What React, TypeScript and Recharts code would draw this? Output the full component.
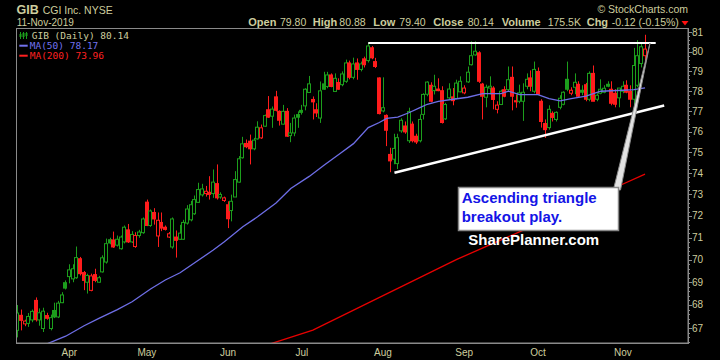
import React from "react";
import { ComposedChart, Bar, Line, XAxis, YAxis, ReferenceLine } from "recharts";

const KHAKI = "#cdcd9e";
const UP = "#1c9e1c";
const DOWN = "#ff1c1c";
const FRAME = "#8a8a8a";

// one row per trading day: index 0 = 12-Mar-2019, last = 11-Nov-2019; [open, high, low, close]
const candles: number[][] = [
  [66.9, 68.0, 66.6, 67.65], [67.55, 67.8, 66.9, 67.33], [67.18, 67.36, 67.08, 67.3], [67.2, 67.65, 67.05, 67.5],
  [67.35, 67.8, 67.25, 67.72], [68.2, 68.33, 67.28, 67.36], [67.35, 67.85, 67.1, 67.66], [66.98, 67.88, 66.83, 67.73],
  [67.54, 67.66, 67.36, 67.42], [66.98, 67.58, 66.9, 67.45], [67.76, 68.1, 67.43, 67.48], [67.48, 68.18, 67.43, 68.08],
  [68.1, 68.56, 68.08, 68.44], [68.98, 69.08, 68.68, 68.74], [69.25, 69.8, 68.95, 69.55], [69.15, 69.8, 69.0, 69.6],
  [69.2, 70.6, 69.15, 70.1], [70.05, 70.13, 69.3, 69.38], [69.43, 69.5, 68.65, 69.08], [69.0, 69.38, 68.5, 69.3],
  [68.64, 69.38, 68.6, 69.28], [69.34, 69.6, 69.0, 69.08], [69.0, 69.28, 68.98, 69.2], [69.46, 70.2, 69.43, 70.09],
  [69.9, 70.96, 69.83, 70.73], [70.91, 71.0, 70.7, 70.76], [70.9, 71.28, 70.54, 70.58], [70.66, 71.1, 70.6, 70.93],
  [70.5, 71.1, 70.46, 71.03], [70.81, 71.56, 70.74, 71.48], [71.36, 71.63, 70.76, 70.81], [70.81, 71.3, 70.76, 71.15],
  [70.6, 71.25, 70.54, 71.1], [71.1, 71.36, 71.0, 71.26], [71.23, 71.93, 71.18, 71.86], [72.64, 72.76, 71.53, 71.56],
  [71.56, 72.3, 71.5, 72.23], [72.16, 72.36, 71.6, 71.86], [71.08, 72.16, 70.58, 71.8], [71.7, 72.16, 71.3, 71.44],
  [71.48, 71.56, 71.33, 71.38], [71.03, 71.26, 70.99, 71.18], [70.58, 71.93, 70.5, 71.86], [71.03, 71.33, 70.1, 70.88],
  [70.93, 71.59, 70.9, 71.21], [70.93, 71.82, 70.9, 71.7], [71.67, 72.5, 71.6, 72.32], [71.82, 72.7, 71.75, 72.52],
  [72.1, 72.95, 72.05, 72.76], [72.63, 73.55, 72.6, 73.23], [72.98, 73.5, 72.9, 73.26], [73.04, 73.4, 72.9, 73.15],
  [73.1, 73.86, 72.76, 73.0], [73.04, 74.18, 72.84, 73.58], [73.51, 74.42, 72.76, 72.84], [72.88, 73.1, 72.8, 73.0],
  [72.72, 72.9, 72.65, 72.84], [72.52, 72.68, 71.44, 71.87], [72.25, 72.99, 71.75, 72.68], [72.88, 74.1, 72.88, 73.7],
  [73.58, 74.82, 73.55, 74.69], [74.74, 75.75, 74.7, 75.41], [75.43, 75.62, 75.2, 75.27], [75.54, 75.86, 74.42, 75.17],
  [75.17, 75.7, 75.1, 75.59], [75.65, 76.51, 75.62, 76.22], [75.7, 76.35, 75.65, 76.19], [76.27, 76.84, 76.24, 76.79],
  [77.08, 77.76, 76.68, 76.71], [76.76, 77.24, 76.19, 77.11], [77.72, 78.02, 77.0, 77.05], [77.0, 77.05, 76.3, 76.56],
  [76.37, 77.32, 76.35, 77.0], [77.0, 77.16, 75.75, 75.78], [75.81, 76.43, 75.49, 75.94], [75.94, 76.84, 75.78, 76.67],
  [76.84, 77.0, 76.19, 76.71], [77.05, 77.32, 76.84, 76.95], [77.27, 78.15, 77.05, 78.1], [77.94, 78.77, 77.94, 78.37],
  [77.59, 77.74, 76.6, 77.47], [77.08, 77.4, 76.72, 76.92], [76.67, 78.49, 76.43, 78.02], [78.37, 78.98, 78.07, 78.1],
  [78.24, 78.98, 78.15, 78.82], [78.82, 78.9, 78.2, 78.24], [77.99, 78.9, 77.97, 78.65], [78.44, 78.65, 78.07, 78.1],
  [78.33, 79.0, 78.25, 78.87], [78.5, 79.6, 78.42, 79.43], [79.43, 79.55, 78.6, 78.7], [78.7, 79.7, 78.6, 79.38],
  [79.43, 79.66, 78.58, 79.1], [79.1, 79.5, 79.0, 79.38], [79.64, 79.75, 79.2, 79.34], [79.55, 80.47, 79.45, 80.3],
  [80.21, 80.3, 79.62, 79.69], [79.5, 79.69, 79.17, 79.25], [78.67, 78.7, 76.85, 76.89], [77.02, 78.7, 76.95, 77.18],
  [76.8, 76.85, 75.3, 76.07], [74.9, 75.22, 74.05, 74.59], [74.67, 75.9, 74.43, 75.19], [74.46, 75.9, 74.2, 75.71],
  [76.04, 76.66, 75.95, 76.56], [76.28, 76.5, 75.9, 75.99], [75.56, 77.18, 75.45, 76.99], [76.37, 76.5, 75.48, 75.56],
  [75.78, 75.9, 75.4, 75.5], [75.56, 76.85, 75.48, 76.6], [76.85, 77.9, 76.6, 77.84], [77.85, 78.5, 77.75, 78.46],
  [78.3, 78.45, 77.45, 77.5], [78.03, 78.83, 77.84, 78.25], [78.11, 78.65, 78.0, 78.03], [78.03, 78.25, 76.4, 76.45],
  [76.63, 77.42, 76.58, 77.34], [77.67, 78.4, 77.6, 78.11], [77.72, 78.16, 77.3, 77.53], [77.64, 78.58, 77.6, 78.41],
  [77.97, 78.75, 77.95, 78.5], [77.92, 78.3, 77.85, 78.16], [78.47, 79.25, 78.42, 78.96], [79.34, 80.54, 79.3, 79.8],
  [79.84, 80.54, 79.8, 80.03], [79.95, 80.03, 78.42, 78.5], [78.36, 78.42, 76.6, 77.75], [77.7, 78.33, 77.2, 78.2],
  [78.16, 78.75, 77.84, 78.25], [78.16, 78.25, 77.1, 77.59], [77.1, 77.5, 76.9, 77.31], [77.34, 78.08, 77.31, 78.0],
  [78.08, 78.25, 77.7, 77.75], [78.08, 79.25, 78.0, 78.58], [78.7, 79.25, 77.05, 77.75], [77.53, 77.84, 77.18, 77.47],
  [77.5, 78.33, 77.4, 77.92], [77.5, 78.4, 76.53, 77.95], [78.25, 78.9, 78.1, 78.6], [78.67, 79.05, 78.0, 78.25],
  [78.0, 79.5, 77.9, 79.1], [79.0, 79.2, 77.84, 77.85], [77.5, 77.6, 76.2, 76.5], [76.4, 76.6, 75.7, 76.1],
  [76.2, 77.3, 76.1, 77.1], [76.9, 77.0, 76.5, 76.7], [76.6, 77.0, 76.5, 76.95], [77.2, 77.8, 77.1, 77.65],
  [77.35, 78.0, 77.3, 77.95], [78.6, 79.5, 78.0, 78.1], [77.9, 78.2, 77.8, 78.05], [78.2, 78.9, 77.85, 78.45],
  [78.35, 78.5, 77.7, 77.75], [78.05, 78.3, 77.8, 77.95], [78.33, 78.42, 77.5, 77.6], [77.6, 79.0, 77.5, 78.9],
  [78.9, 79.3, 77.5, 77.5], [77.6, 77.9, 77.5, 77.8], [77.9, 78.6, 77.85, 78.1], [77.95, 78.3, 77.9, 78.15],
  [78.35, 78.5, 78.2, 78.25], [78.1, 78.5, 77.3, 77.4], [77.9, 78.1, 77.2, 77.35], [77.67, 78.05, 77.2, 78.16],
  [78.0, 78.5, 77.9, 78.25], [78.3, 78.55, 77.9, 77.95], [78.0, 78.3, 77.2, 77.6], [77.6, 80.2, 77.0, 79.3],
  [78.3, 80.6, 78.2, 79.8], [79.4, 80.5, 79.2, 80.26], [79.8, 80.88, 79.4, 80.14],
];

// moving averages: [day index, value]
const ma50Points: number[][] = [
  [6, 66.2], [13, 66.65], [18, 67.1], [22, 67.42], [27, 67.8], [31, 68.14], [36, 68.7], [40, 69.1], [44, 69.42],
  [53, 70.44], [56, 70.82], [61, 71.5], [65, 71.96], [70, 72.6], [74, 73.28], [79, 73.85], [83, 74.38], [87, 74.9],
  [91, 75.42], [95, 76.2], [98, 76.45], [100, 76.65], [103, 76.72], [106, 76.93], [109, 77.18], [111, 77.35],
  [114, 77.5], [118, 77.6], [122, 77.7], [126, 77.88], [131, 77.88], [133, 78.0], [136, 77.83], [141, 77.83],
  [144, 77.63], [147, 77.52], [150, 77.63], [154, 77.76], [158, 78.0], [164, 78.05], [167, 78.08], [170, 78.17],
];
const ma200Points: number[][] = [
  [67, 66.25], [80, 66.91], [119, 70.02], [136, 71.27], [163, 73.41], [170, 73.96],
];

const monthTicks = [14, 35, 57, 77, 99, 121, 141, 164];
const monthLabels = ["Apr", "May", "Jun", "Jul", "Aug", "Sep", "Oct", "Nov"];

// triangle drawn on the chart: [day index, price]
const resistance = [[95, 80.46], [172.9, 80.46]];
const support = [[102.1, 74.02], [175.2, 77.29]];

const Y_DOMAIN = [66.36, 81.18];
const X_DOMAIN = [-0.46, 181.65];

const rows = candles.map(([o, h, l, c], i) => ({
  i,
  range: [l, h],
  o,
  h,
  l,
  c,
  prev: i > 0 ? candles[i - 1][3] : o,
}));

const priceTicks: number[] = [];
for (let p = 66; p <= 81; p++) {
  for (let k = 0; k < 5; k++) {
    const v = Math.round((p + k / 5) * 10) / 10;
    if (v > Y_DOMAIN[0] && v < Y_DOMAIN[1]) priceTicks.push(v);
  }
}

function Candle(props: any) {
  const { x, y, width, height, payload } = props;
  if (!payload) return null;
  const { o, h, l, c, prev } = payload;
  const span = Math.log(h) - Math.log(l);
  const yOf = (v: number) => (span > 0 ? y + (height * (Math.log(h) - Math.log(v))) / span : y);
  const cx = Math.round(x + width / 2) + 0.5;
  const color = c >= prev ? UP : DOWN;
  const top = yOf(Math.max(o, c));
  const bot = yOf(Math.min(o, c));
  const bh = Math.max(bot - top, 1);
  return (
    <g>
      <line x1={cx} x2={cx} y1={y} y2={y + Math.max(height, 1)} stroke={color} strokeWidth={1} />
      {c > o ? (
        <rect x={cx - 2} y={top} width={3} height={bh} fill="#000" stroke={color} strokeWidth={1} />
      ) : (
        <rect x={cx - 2.5} y={top - 0.5} width={4} height={bh + 1} fill={color} />
      )}
    </g>
  );
}

function PriceTick(props: any) {
  const { x, y, payload } = props;
  const v = payload.value;
  const major = Math.abs(v - Math.round(v)) < 1e-6;
  return (
    <g>
      <line x1={x} x2={x + (major ? 4 : 2)} y1={Math.round(y) + 0.5} y2={Math.round(y) + 0.5} stroke={FRAME} />
      {major && (
        <text x={x + 4} y={y + 3.5} fill={KHAKI} fontSize={10} fontFamily="Liberation Sans, Arial, sans-serif">
          {Math.round(v)}
        </text>
      )}
    </g>
  );
}

function MonthTick(props: any) {
  const { x, payload } = props;
  const idx = monthTicks.indexOf(payload.value);
  return (
    <text x={x} y={355.5} textAnchor="middle" fill={KHAKI} fontSize={10} fontFamily="Liberation Sans, Arial, sans-serif">
      {monthLabels[idx]}
    </text>
  );
}

function Overlay() {
  const hdr = "Liberation Sans, Arial, sans-serif";
  const mono = "DejaVu Sans Mono, monospace";
  const stats: [string, string, number, number][] = [
    ["Open", "79.80", 248.3, 280],
    ["High", "80.88", 312.7, 339.3],
    ["Low", "79.40", 373.3, 399.3],
    ["Close", "80.14", 433.3, 467.7],
    ["Volume", "175.5K", 501.7, 547.7],
    ["Chg", "-0.12 (-0.15%)", 586.7, 611.7],
  ];
  return (
    <svg width={720} height={360} style={{ position: "absolute", left: 0, top: 0, pointerEvents: "none" }}>
      <rect x={16.5} y={28.5} width={672} height={315} fill="none" stroke={FRAME} />
      <text x={16.5} y={14} fill={KHAKI} fontSize={12.5} fontWeight="bold" fontFamily={hdr}>GIB</text>
      <text x={42.7} y={13.5} fill={KHAKI} fontSize={10.5} fontFamily={hdr}>CGI Inc.  NYSE</text>
      <text x={16.7} y={26} fill={KHAKI} fontSize={10} fontFamily={hdr}>11-Nov-2019</text>
      {stats.map(([k, v, kx, vx]) => (
        <g key={k}>
          <text x={kx} y={26} fill={KHAKI} fontSize={11} fontWeight="bold" fontFamily={hdr}>{k}</text>
          <text x={vx} y={26} fill={KHAKI} fontSize={10.5} fontFamily={hdr}>{v}</text>
        </g>
      ))}
      <polygon points="681.5,21 688.5,21 685,25.5" fill="#ff1010" />
      <text x={688} y={12.5} textAnchor="end" fill={KHAKI} fontSize={10.5} fontFamily={hdr}>© StockCharts.com</text>

      <g>
        <line x1={20.5} x2={20.5} y1={32} y2={39} stroke={UP} />
        <rect x={19.5} y={34} width={2} height={3} fill={UP} />
        <line x1={23.5} x2={23.5} y1={32} y2={39} stroke={UP} />
        <rect x={22.5} y={33} width={2} height={4} fill={UP} />
        <line x1={26.5} x2={26.5} y1={32} y2={39} stroke={UP} />
        <rect x={25.5} y={33} width={2} height={3} fill={UP} />
      </g>
      <text x={31.7} y={39} fill={KHAKI} fontSize={9.5} fontFamily={mono}>GIB (Daily) 80.14</text>
      <line x1={19.3} x2={27.7} y1={45.7} y2={45.7} stroke="#7272ee" strokeWidth={2} />
      <text x={29.7} y={49} fill="#7272ee" fontSize={9.5} fontFamily={mono}>MA(50) 78.17</text>
      <line x1={19.3} x2={27.7} y1={55.7} y2={55.7} stroke="#ff2020" strokeWidth={2} />
      <text x={29.7} y={59} fill="#ff2020" fontSize={9.5} fontFamily={mono}>MA(200) 73.96</text>

      <polygon points="613.3,190 620.5,190 650,43" fill="#e2e2e2" stroke="#8c8c8c" strokeWidth={1} />
      <rect x={458.5} y={187.5} width={160} height={43} fill="#fff" stroke="#888" strokeWidth={1.5} />
      <text x={461.7} y={203.3} fill="#1414e6" fontSize={15} fontWeight="bold" fontFamily={hdr}>Ascending triangle</text>
      <text x={461.7} y={221.7} fill="#1414e6" fontSize={15} fontWeight="bold" fontFamily={hdr}>breakout play.</text>
      <text x={468.3} y={245} fill="#fff" fontSize={15} fontWeight="bold" fontFamily={hdr}>SharePlanner.com</text>
    </svg>
  );
}

export default function App() {
  const ma50 = ma50Points.map(([i, v]) => ({ i, v }));
  const ma200 = ma200Points.map(([i, v]) => ({ i, v }));
  return (
    <div style={{ position: "absolute", left: 0, top: 0, width: 720, height: 360, background: "#000" }}>
      <ComposedChart width={720} height={360} data={rows} margin={{ top: 29, right: 0, bottom: 0, left: 16 }}>
        <XAxis
          dataKey="i"
          type="number"
          domain={X_DOMAIN}
          allowDataOverflow
          ticks={monthTicks}
          interval={0}
          height={17}
          axisLine={{ stroke: FRAME }}
          tickLine={false}
          tick={<MonthTick />}
        />
        <YAxis
          orientation="right"
          scale="log"
          domain={Y_DOMAIN}
          allowDataOverflow
          ticks={priceTicks}
          interval={0}
          width={32}
          axisLine={{ stroke: FRAME }}
          tickLine={false}
          tickSize={0}
          tickMargin={0}
          tick={<PriceTick />}
        />
        <Bar dataKey="range" barSize={3} shape={<Candle />} isAnimationActive={false} />
        <Line data={ma50} dataKey="v" type="linear" dot={false} stroke="#6e6ee6" strokeWidth={1.3} isAnimationActive={false} />
        <Line data={ma200} dataKey="v" type="linear" dot={false} stroke="#e80000" strokeWidth={1.3} isAnimationActive={false} />
        <ReferenceLine
          segment={resistance.map(([x, y]) => ({ x, y }))}
          stroke="#fff"
          strokeWidth={2}
          ifOverflow="visible"
        />
        <ReferenceLine
          segment={support.map(([x, y]) => ({ x, y }))}
          stroke="#fff"
          strokeWidth={2.5}
          ifOverflow="visible"
        />
      </ComposedChart>
      <Overlay />
    </div>
  );
}
